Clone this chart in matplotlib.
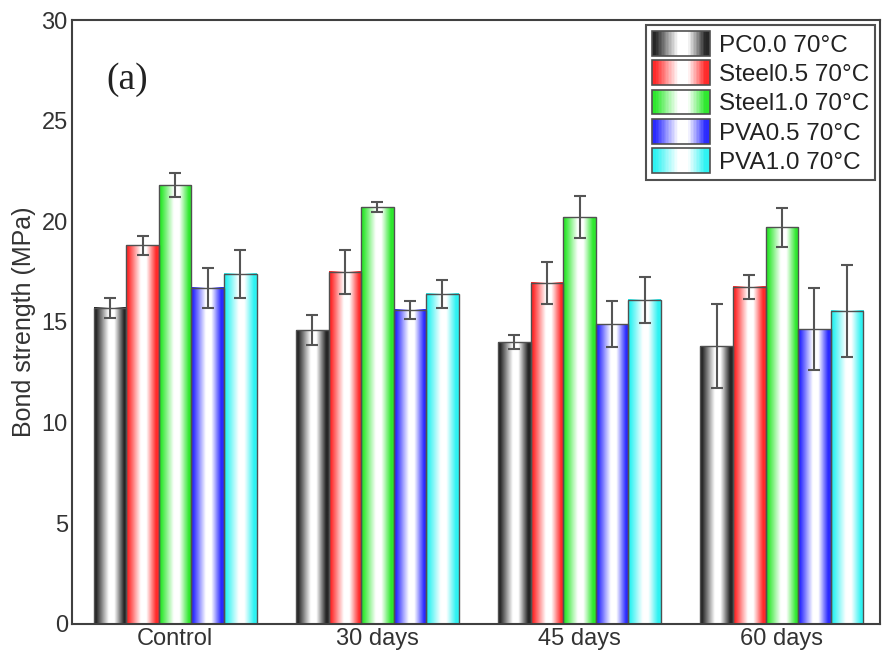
import matplotlib
matplotlib.use('Agg')
import matplotlib.pyplot as plt
import numpy as np
from matplotlib.colors import LinearSegmentedColormap
from matplotlib.legend_handler import HandlerBase
from matplotlib.patches import Rectangle

plt.rcParams['font.family'] = ['Liberation Sans', 'DejaVu Sans']

categorias = ['Control', '30 days', '45 days', '60 days']
series = ['PC0.0 70°C', 'Steel0.5 70°C', 'Steel1.0 70°C', 'PVA0.5 70°C', 'PVA1.0 70°C']
pc00 = [15.7, 14.6, 14.0, 13.8]
steel05 = [18.8, 17.5, 16.95, 16.75]
steel10 = [21.8, 20.7, 20.2, 19.7]
pva05 = [16.7, 15.6, 14.9, 14.65]
pva10 = [17.4, 16.4, 16.1, 15.55]
err_pc00 = [0.5, 0.75, 0.35, 2.1]
err_steel05 = [0.45, 1.1, 1.05, 0.6]
err_steel10 = [0.6, 0.25, 1.05, 0.95]
err_pva05 = [1.0, 0.45, 1.15, 2.05]
err_pva10 = [1.2, 0.7, 1.15, 2.3]

valores = [pc00, steel05, steel10, pva05, pva10]
errores = [err_pc00, err_steel05, err_steel10, err_pva05, err_pva10]
colores = ['#262626', '#ff2a2a', '#2ee82e', '#2a2aff', '#2ef2f2']


def degradado(color):
    # borde -> color -> blanco -> color -> borde
    return LinearSegmentedColormap.from_list(
        'g', [(0.0, color), (0.06, color), (0.45, 'white'), (0.62, 'white'),
              (0.92, color), (1.0, color)])


class HandlerDegradado(HandlerBase):
    def __init__(self, cmap):
        super().__init__()
        self.cmap = cmap

    def create_artists(self, legend, orig_handle, xdescent, ydescent,
                       width, height, fontsize, trans):
        n = 40
        x0, y0 = -xdescent, -ydescent
        artistas = []
        for i in range(n):
            r = Rectangle((x0 + i * width / n, y0), width / n * 1.1, height,
                          facecolor=self.cmap((i + 0.5) / n), edgecolor='none',
                          antialiased=False, transform=trans)
            artistas.append(r)
        borde = Rectangle((x0, y0), width, height, facecolor='none',
                          edgecolor='#505050', lw=1.2, transform=trans)
        artistas.append(borde)
        return artistas


fig = plt.figure(figsize=(8.83, 6.56), dpi=100)
ax = fig.add_axes([0.0815, 0.0488, 0.915, 0.9207])

x = np.arange(len(categorias))
ancho = 0.161
grad = np.linspace(0, 1, 64).reshape(1, -1)
mapas = [degradado(c) for c in colores]

for i, (vals, errs) in enumerate(zip(valores, errores)):
    pos = x + (i - 2) * ancho
    barras = ax.bar(pos, vals, ancho, facecolor='none', edgecolor='#505050',
                    lw=1.0, zorder=2)
    for b in barras:
        bx, by = b.get_x(), b.get_y()
        ax.imshow(grad, extent=(bx, bx + b.get_width(), by, by + b.get_height()),
                  cmap=mapas[i], aspect='auto', interpolation='bilinear', zorder=1)
    ax.errorbar(pos, vals, yerr=errs, fmt='none', ecolor='#555555',
                elinewidth=1.5, capsize=4.5, capthick=1.5, zorder=3)

ax.set_xlim(-0.51, 3.485)
ax.set_ylim(0, 30)
ax.set_yticks(range(0, 31, 5))
ax.set_xticks(x)
ax.set_xticklabels(categorias)
ax.tick_params(length=0, labelsize=17, colors='#333333', pad=3)
ax.set_ylabel('Bond strength (MPa)', fontsize=18, color='#333333', labelpad=4)
for s in ax.spines.values():
    s.set_color('#404040')
    s.set_linewidth(1.5)

ax.text(0.068, 0.902, '(a)', transform=ax.transAxes, ha='center', va='center',
        fontsize=27, family=['Liberation Serif', 'DejaVu Serif'], color='#222222')

proxies = [Rectangle((0, 0), 1, 1) for _ in series]
leg = ax.legend(proxies, series, loc='upper right', fontsize=17.5,
                handler_map={p: HandlerDegradado(m) for p, m in zip(proxies, mapas)},
                handlelength=2.4, handleheight=1.2, labelspacing=0.15,
                handletextpad=0.35, borderpad=0.25, borderaxespad=0.2,
                fancybox=False, framealpha=1, edgecolor='#505050')
leg.get_frame().set_linewidth(1.5)
for t in leg.get_texts():
    t.set_color('#222222')

fig.savefig('out.png', dpi=100)
plt.close(fig)
